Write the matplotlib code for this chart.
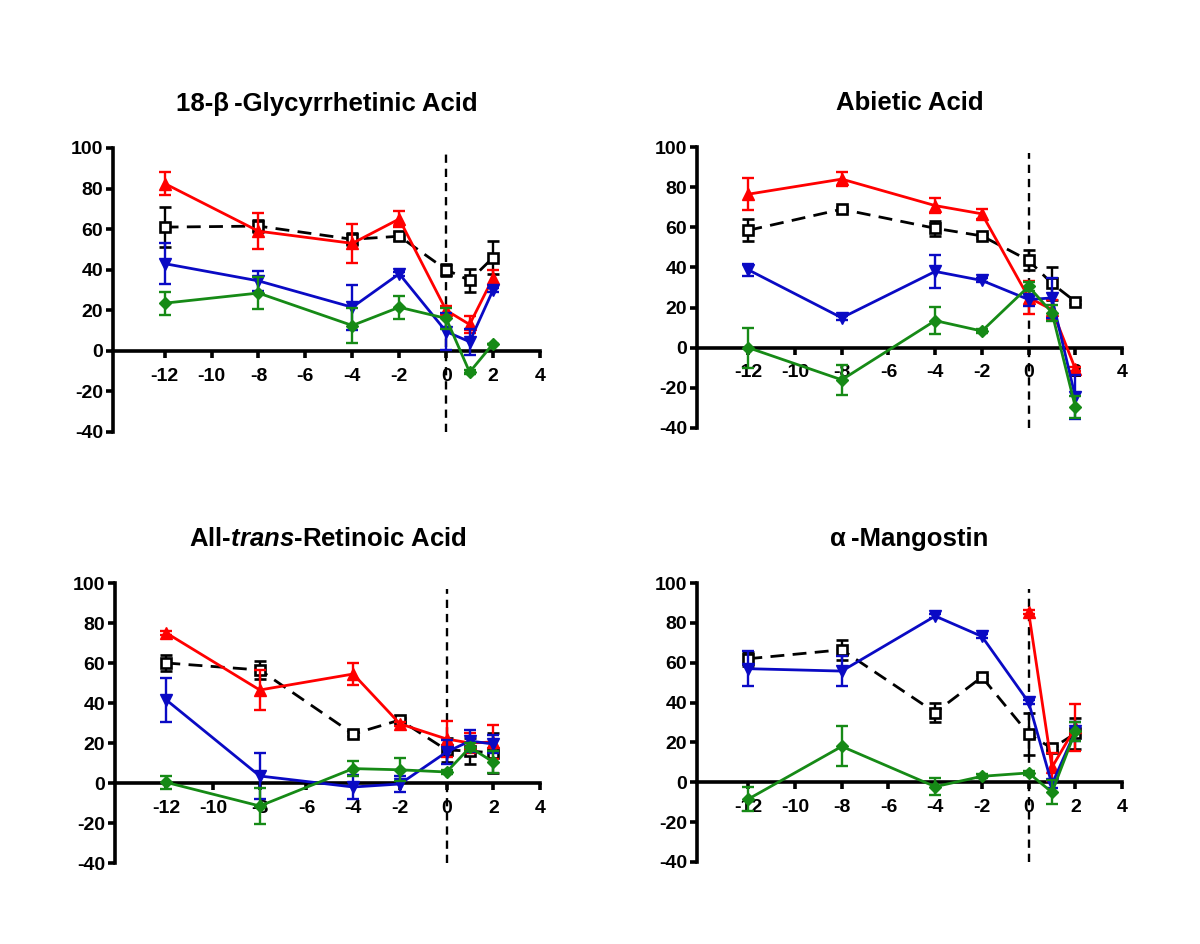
import numpy as np
import matplotlib
matplotlib.use("Agg")
import matplotlib.pyplot as plt

plt.rcParams['font.family'] = ['Liberation Sans', 'DejaVu Sans']
plt.rcParams['mathtext.fontset'] = 'custom'
plt.rcParams['mathtext.it'] = 'Liberation Sans:bold:italic'
plt.rcParams['mathtext.rm'] = 'Liberation Sans:bold'
plt.rcParams['axes.unicode_minus'] = False

nan = np.nan
X = [-12, -8, -4, -2, 0, 1, 2]

titles = ["18-\u03b2\u2009-Glycyrrhetinic Acid", "Abietic Acid",
          r"All-$\mathit{trans}$-Retinoic Acid", "\u03b1\u2009-Mangostin"]

# Panel 1: 18-beta-Glycyrrhetinic Acid
ctrl1 = [61, 61.5, 55, 56.5, 40, 34.7, 46]
ctrl1_err = [10, 3, 3, 2, 3, 5.5, 8]
red1 = [82.5, 59, 53, 65, 20, 13, 36]
red1_err = [5.5, 9, 9.5, 4, 2, 4, 4]
blue1 = [43, 34.5, 21.5, 38, 9.5, 4.5, 30]
blue1_err = [10, 5, 11, 1, 9, 6.5, 1]
green1 = [23.5, 28.5, 12.5, 21.5, 16, -10.5, 3.5]
green1_err = [5.7, 8, 8.7, 5.7, 5, 1, 0]

# Panel 2: Abietic Acid
ctrl2 = [58.5, 69, 59.5, 55.7, 43.5, 32, 23]
ctrl2_err = [5.5, 1, 3.8, 1, 5, 8, 1]
red2 = [76.5, 84, 70.8, 66.7, 25, 19, -10.5]
red2_err = [8, 3.5, 3.7, 2.5, 8, 5, 1]
blue2 = [38.8, 14.9, 38, 33.5, 24, 24.8, -24.5]
blue2_err = [3, 1, 8, 1, 3, 10, 11]
green2 = [0, -16, 13.5, 8.3, 30.5, 17.5, -29.5]
green2_err = [10, 7.5, 6.6, 1, 2, 4, 5.6]

# Panel 3: All-trans-Retinoic Acid
ctrl3 = [60, 56.5, 24.5, 31.5, 16.5, 16, 15]
ctrl3_err = [3.8, 4.5, 1, 1, 5.8, 6.6, 10]
red3 = [75, 46.5, 54.5, 29.6, 22, 20, 20.5]
red3_err = [1, 10, 5.5, 1, 9, 5, 8.5]
blue3 = [41.5, 3.5, -2, -0.5, 15.5, 21, 19.5]
blue3_err = [10.8, 11.6, 6.2, 4, 6.2, 5.4, 4.5]
green3 = [0.3, -11.5, 7.2, 6.6, 5.5, 17.8, 10.5]
green3_err = [3.3, 8.8, 3.7, 5.8, 1, 2, 5.3]

# Panel 4: alpha-Mangostin
ctrl4 = [62, 66.5, 35, 52.8, 24.3, 17, 24.5]
ctrl4_err = [3.4, 5, 4.7, 1, 10.5, 1, 8]
red4 = [nan, nan, nan, nan, 85.5, 7.5, 27.5]
red4_err = [0, 0, 0, 0, 1, 7, 12]
blue4 = [57, 55.8, 83.4, 73.2, 40.2, -1, 25.5]
blue4_err = [8.7, 7.7, 1, 1, 1, 2, 5]
green4 = [-8.4, 18, -2.2, 3, 4.7, -5, 25.5]
green4_err = [6, 10, 4.3, 1, 1, 6, 5]

panels = [
    (ctrl1, ctrl1_err, red1, red1_err, blue1, blue1_err, green1, green1_err),
    (ctrl2, ctrl2_err, red2, red2_err, blue2, blue2_err, green2, green2_err),
    (ctrl3, ctrl3_err, red3, red3_err, blue3, blue3_err, green3, green3_err),
    (ctrl4, ctrl4_err, red4, red4_err, blue4, blue4_err, green4, green4_err),
]

W, H = 1200, 944
fig = plt.figure(figsize=(12, 9.44), dpi=100)

# pixel boxes: (left spine, x=4 pos, top y=100, bottom y=-40)
boxes = [(113, 540, 148, 432), (697, 1122, 147, 428),
         (115, 540, 583, 863), (697, 1122, 583, 862)]

RED = '#ff0000'
BLUE = '#0a0ac4'
GREEN = '#168a16'

XL = (-14.2, 4.0)

for i, (box, data) in enumerate(zip(boxes, panels)):
    l, r, t, b = box
    ax = fig.add_axes([l / W, 1 - b / H, (r - l) / W, (b - t) / H])
    ax.set_xlim(*XL)
    ax.set_ylim(-40, 100)
    c, ce, rd, rde, bl, ble, gr, gre = data

    ax.plot([0, 0], [-40, 97], color='black', lw=1.7, ls=(0, (3.5, 2.5)), zorder=1)

    ax.errorbar(X, c, yerr=ce, color='black', ls=(0, (5, 3)), lw=2.0,
                marker='s', ms=7.5, mfc='white', mec='black', mew=1.9,
                capsize=4.5, elinewidth=1.7, capthick=1.7, clip_on=False, zorder=3)
    ax.errorbar(X, rd, yerr=rde, color=RED, lw=2.0, marker='^', ms=9,
                capsize=4.5, elinewidth=1.7, capthick=1.7, clip_on=False, zorder=4)
    ax.errorbar(X, bl, yerr=ble, color=BLUE, lw=2.0, marker='v', ms=9,
                capsize=4.5, elinewidth=1.7, capthick=1.7, clip_on=False, zorder=5)
    ax.errorbar(X, gr, yerr=gre, color=GREEN, lw=2.0, marker='D', ms=6,
                capsize=4.5, elinewidth=1.7, capthick=1.7, clip_on=False, zorder=6)

    for s in ['top', 'right']:
        ax.spines[s].set_visible(False)
    ax.spines['left'].set_linewidth(2.6)
    ax.spines['bottom'].set_linewidth(2.6)
    ax.spines['bottom'].set_position(('data', 0))
    ax.spines['left'].set_bounds(-40, 100)
    ax.spines['bottom'].set_bounds(XL[0], 4)

    ax.set_yticks(np.arange(-40, 101, 20))
    ax.set_xticks(np.arange(-12, 5, 2))
    ax.tick_params(axis='both', direction='out', length=5, width=2.6,
                   labelsize=14)
    ax.tick_params(axis='y', pad=2)
    ax.tick_params(axis='x', pad=7)
    for lab in ax.get_xticklabels() + ax.get_yticklabels():
        lab.set_fontweight('bold')

    ax.text(0.5, 1 + 44 / (b - t), titles[i],
            transform=ax.transAxes, ha='center', va='center',
            fontsize=18.5, fontweight='bold')

fig.savefig('out.png', dpi=100, facecolor='white')
